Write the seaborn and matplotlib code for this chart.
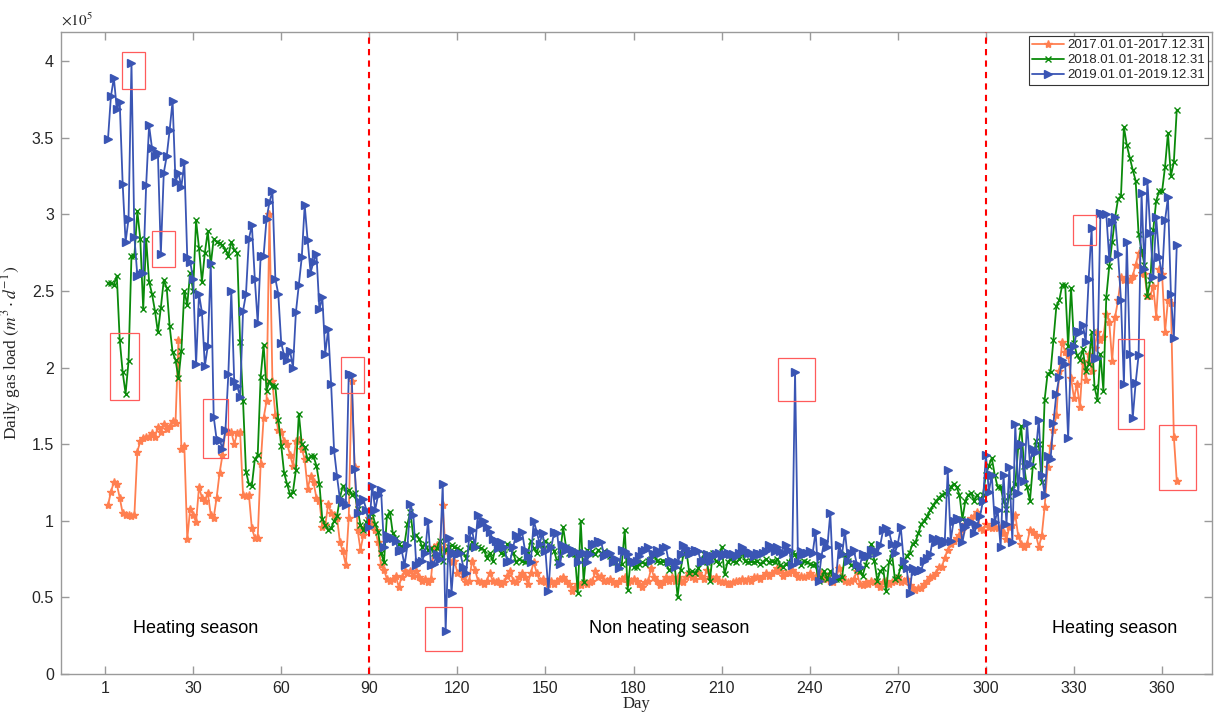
import numpy as np
import pandas as pd
import matplotlib
matplotlib.use("Agg")
import matplotlib.pyplot as plt
from matplotlib.patches import Rectangle
import seaborn as sns

# ---------------- data (daily gas load, x1e5 m^3/d) ----------------
load_2017 = [
    1.10, 1.19, 1.25, 1.24, 1.15, 1.05, 1.04, 1.04, 1.03, 1.04,
    1.45, 1.52, 1.54, 1.55, 1.55, 1.57, 1.55, 1.61, 1.58, 1.63,
    1.60, 1.62, 1.65, 1.64, 2.18, 1.47, 1.49, 0.88, 1.08, 1.04,
    0.99, 1.22, 1.15, 1.13, 1.18, 1.04, 1.02, 1.15, 1.31, 1.43,
    1.59, 1.58, 1.58, 1.50, 1.57, 1.58, 1.17, 1.16, 1.17, 0.95,
    0.89, 0.89, 1.37, 1.67, 1.78, 3.00, 1.91, 1.69, 1.59, 1.58,
    1.52, 1.50, 1.43, 1.36, 1.52, 1.53, 1.47, 1.40, 1.21, 1.29,
    1.25, 1.15, 1.13, 0.96, 0.97, 1.11, 1.05, 1.04, 1.02, 0.86,
    0.80, 0.71, 1.02, 1.91, 1.35, 0.94, 0.81, 0.91, 0.96, 1.02,
    0.98, 0.94, 0.86, 0.71, 0.68, 0.62, 0.61, 0.62, 0.64, 0.57,
    0.63, 0.67, 0.66, 0.67, 0.64, 0.67, 0.63, 0.61, 0.62, 0.60,
    0.62, 0.83, 0.84, 0.83, 1.10, 0.80, 0.79, 0.73, 0.74, 0.66,
    0.67, 0.63, 0.60, 0.61, 0.74, 0.68, 0.61, 0.60, 0.59, 0.61,
    0.66, 0.61, 0.60, 0.61, 0.59, 0.60, 0.64, 0.67, 0.61, 0.60,
    0.63, 0.66, 0.63, 0.59, 0.66, 0.73, 0.66, 0.61, 0.62, 0.60,
    0.59, 0.61, 0.59, 0.61, 0.62, 0.63, 0.61, 0.59, 0.54, 0.57,
    0.59, 0.58, 0.60, 0.59, 0.60, 0.61, 0.67, 0.63, 0.64, 0.61,
    0.61, 0.62, 0.60, 0.59, 0.61, 0.62, 0.63, 0.60, 0.61, 0.62,
    0.61, 0.59, 0.57, 0.60, 0.61, 0.69, 0.63, 0.61, 0.58, 0.60,
    0.63, 0.61, 0.63, 0.61, 0.63, 0.61, 0.60, 0.63, 0.66, 0.63,
    0.62, 0.66, 0.64, 0.62, 0.68, 0.63, 0.62, 0.63, 0.61, 0.60,
    0.60, 0.59, 0.59, 0.60, 0.61, 0.61, 0.62, 0.61, 0.62, 0.61,
    0.63, 0.63, 0.62, 0.64, 0.66, 0.64, 0.66, 0.67, 0.69, 0.67,
    0.64, 0.66, 0.66, 0.68, 0.66, 0.63, 0.64, 0.63, 0.64, 0.66,
    0.63, 0.64, 0.63, 0.66, 0.62, 0.64, 0.61, 0.60, 0.63, 0.69,
    0.63, 0.61, 0.60, 0.61, 0.62, 0.67, 0.59, 0.58, 0.60, 0.59,
    0.61, 0.60, 0.59, 0.57, 0.60, 0.61, 0.59, 0.60, 0.61, 0.63,
    0.60, 0.61, 0.62, 0.58, 0.56, 0.55, 0.56, 0.56, 0.59, 0.61,
    0.63, 0.64, 0.66, 0.70, 0.70, 0.76, 0.81, 0.85, 0.87, 0.89,
    0.91, 0.94, 0.98, 1.00, 1.02, 1.03, 1.06, 0.95, 0.94, 0.98,
    0.96, 0.95, 0.96, 0.95, 0.96, 0.92, 0.88, 0.96, 0.97, 1.04,
    0.90, 0.85, 0.83, 0.85, 0.94, 0.93, 0.91, 0.83, 0.90, 1.09,
    1.35, 1.49, 1.59, 1.69, 1.98, 2.17, 2.10, 2.08, 1.93, 1.80,
    1.89, 1.74, 2.04, 1.92, 2.09, 1.98, 2.13, 2.23, 2.18, 2.20,
    2.35, 2.30, 2.04, 2.33, 2.44, 2.59, 2.57, 2.58, 2.57, 2.60,
    2.67, 2.75, 2.62, 2.61, 2.47, 2.47, 2.53, 2.33, 2.64, 2.61,
    2.23, 2.44, 2.42, 1.55, 1.26,
]

load_2018 = [
    2.55, 2.55, 2.54, 2.60, 2.18, 1.97, 1.83, 2.04, 2.73, 2.73,
    3.02, 2.84, 2.38, 2.84, 2.56, 2.48, 2.37, 2.23, 2.39, 2.57,
    2.52, 2.27, 2.10, 2.05, 1.93, 2.11, 2.50, 2.41, 2.62, 2.50,
    2.96, 2.78, 2.56, 2.75, 2.89, 2.67, 2.84, 2.82, 2.81, 2.80,
    2.77, 2.73, 2.82, 2.77, 2.75, 2.17, 1.78, 1.32, 1.24, 1.23,
    1.40, 1.43, 1.94, 2.15, 1.85, 1.91, 1.88, 1.88, 1.66, 1.49,
    1.31, 1.24, 1.17, 1.19, 1.33, 1.70, 1.50, 1.48, 1.40, 1.42,
    1.42, 1.36, 1.24, 1.01, 0.97, 0.94, 0.95, 1.00, 1.03, 1.15,
    1.23, 1.19, 1.20, 1.17, 1.18, 1.08, 0.97, 0.94, 0.99, 1.03,
    1.05, 0.98, 0.93, 0.79, 0.73, 1.03, 1.06, 0.92, 0.89, 0.85,
    0.83, 0.85, 0.98, 1.06, 0.89, 0.91, 0.88, 0.83, 0.85, 0.81,
    0.82, 0.79, 0.82, 0.87, 0.74, 0.81, 0.83, 0.84, 0.83, 0.82,
    0.81, 0.79, 0.76, 0.82, 0.86, 0.84, 0.83, 0.82, 0.81, 0.76,
    0.79, 0.74, 0.83, 0.84, 0.79, 0.78, 0.85, 0.83, 0.79, 0.73,
    0.75, 0.74, 0.73, 0.79, 0.87, 0.82, 0.79, 0.85, 0.81, 0.87,
    0.85, 0.83, 0.80, 0.73, 0.78, 0.96, 0.83, 0.79, 0.80, 0.78,
    0.53, 1.00, 0.60, 0.81, 0.79, 0.80, 0.78, 0.81, 0.79, 0.80,
    0.78, 0.77, 0.74, 0.73, 0.70, 0.72, 0.94, 0.55, 0.74, 0.70,
    0.70, 0.72, 0.73, 0.72, 0.74, 0.75, 0.77, 0.74, 0.73, 0.74,
    0.73, 0.68, 0.69, 0.71, 0.50, 0.68, 0.78, 0.80, 0.66, 0.67,
    0.66, 0.69, 0.74, 0.78, 0.73, 0.61, 0.79, 0.74, 0.72, 0.83,
    0.65, 0.73, 0.75, 0.74, 0.73, 0.75, 0.79, 0.74, 0.73, 0.74,
    0.73, 0.74, 0.72, 0.73, 0.75, 0.73, 0.74, 0.73, 0.75, 0.71,
    0.70, 0.72, 0.73, 0.79, 0.78, 0.73, 0.71, 0.74, 0.73, 0.72,
    0.71, 0.72, 0.61, 0.63, 0.67, 0.62, 0.67, 0.63, 0.62, 0.62,
    0.63, 0.78, 0.74, 0.71, 0.70, 0.68, 0.67, 0.64, 0.71, 0.77,
    0.85, 0.74, 0.61, 0.67, 0.69, 0.54, 0.73, 0.79, 0.62, 0.63,
    0.70, 0.72, 0.77, 0.79, 0.85, 0.86, 0.92, 0.98, 1.00, 1.03,
    1.07, 1.10, 1.13, 1.15, 1.17, 1.18, 1.19, 1.22, 1.24, 1.22,
    1.17, 1.01, 1.13, 1.17, 1.18, 1.13, 1.17, 1.13, 1.17, 1.30,
    1.36, 1.41, 1.30, 1.22, 1.22, 1.13, 1.08, 1.16, 1.21, 1.24,
    1.48, 1.62, 1.36, 1.22, 1.13, 1.36, 1.52, 1.50, 1.25, 1.79,
    1.96, 1.97, 2.18, 2.40, 2.44, 2.54, 2.54, 2.14, 2.52, 2.16,
    2.08, 2.05, 2.12, 1.98, 2.02, 2.23, 1.87, 1.79, 2.09, 1.85,
    2.46, 2.66, 2.82, 2.98, 3.10, 3.12, 3.57, 3.45, 3.37, 3.29,
    3.22, 2.87, 2.77, 2.67, 2.47, 2.57, 2.90, 3.09, 3.15, 3.15,
    3.31, 3.53, 3.25, 3.34, 3.68,
]

load_2019 = [
    3.49, 3.77, 3.89, 3.69, 3.73, 3.20, 2.82, 2.97, 3.99, 2.85,
    2.60, 2.61, 2.62, 3.19, 3.58, 3.43, 3.38, 3.40, 2.74, 3.27,
    3.38, 3.55, 3.74, 3.21, 3.27, 3.18, 3.34, 2.72, 2.69, 2.58,
    2.02, 2.48, 2.36, 2.01, 2.14, 2.68, 1.68, 1.53, 1.53, 1.47,
    1.59, 1.96, 2.50, 1.91, 1.88, 1.81, 2.37, 2.48, 2.84, 2.93,
    2.58, 2.29, 2.73, 2.73, 2.97, 3.08, 3.15, 2.58, 2.48, 2.16,
    2.08, 2.05, 2.11, 2.00, 2.36, 2.54, 2.72, 3.06, 2.83, 2.62,
    2.69, 2.74, 2.38, 2.46, 2.09, 2.25, 1.89, 1.46, 1.29, 1.14,
    1.12, 1.10, 1.96, 1.95, 1.34, 1.05, 1.12, 1.14, 1.07, 0.96,
    1.23, 1.07, 1.17, 1.20, 0.83, 0.91, 0.89, 0.89, 0.87, 0.80,
    0.81, 0.71, 0.84, 1.11, 1.04, 0.71, 0.73, 0.74, 0.79, 1.00,
    0.71, 0.72, 0.78, 0.75, 1.24, 0.28, 0.89, 0.53, 0.79, 0.78,
    0.79, 0.70, 0.66, 0.89, 0.94, 0.83, 1.04, 0.98, 1.00, 0.96,
    0.93, 0.88, 0.87, 0.82, 0.86, 0.83, 0.73, 0.74, 0.83, 0.91,
    0.89, 0.93, 0.81, 0.77, 0.73, 1.00, 0.93, 0.85, 0.92, 0.80,
    0.54, 0.83, 0.93, 0.92, 0.72, 0.84, 0.81, 0.82, 0.79, 0.80,
    0.73, 0.78, 0.79, 0.73, 0.78, 0.85, 0.85, 0.87, 0.86, 0.77,
    0.78, 0.79, 0.73, 0.75, 0.69, 0.81, 0.80, 0.78, 0.74, 0.73,
    0.74, 0.77, 0.80, 0.81, 0.83, 0.74, 0.78, 0.81, 0.79, 0.82,
    0.83, 0.73, 0.74, 0.70, 0.73, 0.78, 0.84, 0.82, 0.78, 0.79,
    0.81, 0.80, 0.73, 0.74, 0.78, 0.74, 0.77, 0.78, 0.79, 0.77,
    0.78, 0.79, 0.78, 0.78, 0.77, 0.79, 0.83, 0.81, 0.79, 0.79,
    0.77, 0.79, 0.78, 0.79, 0.80, 0.84, 0.83, 0.80, 0.83, 0.80,
    0.78, 0.84, 0.81, 0.71, 1.97, 0.73, 0.80, 0.78, 0.79, 0.80,
    0.79, 0.93, 0.61, 0.77, 0.87, 0.83, 1.05, 0.61, 0.64, 0.84,
    0.78, 0.93, 0.74, 0.79, 0.81, 0.72, 0.70, 0.78, 0.77, 0.77,
    0.81, 0.81, 0.79, 0.84, 0.94, 0.95, 0.93, 0.85, 0.79, 0.85,
    0.96, 0.74, 0.69, 0.53, 0.69, 0.67, 0.67, 0.68, 0.74, 0.76,
    0.78, 0.89, 0.86, 0.88, 0.85, 0.87, 1.33, 0.87, 1.00, 1.02,
    1.01, 0.86, 0.96, 0.99, 0.99, 0.92, 0.97, 1.03, 1.13, 1.43,
    1.19, 1.30, 0.99, 1.07, 0.83, 1.30, 0.98, 1.35, 0.86, 1.63,
    1.18, 1.50, 1.26, 1.64, 1.37, 1.47, 1.45, 1.66, 1.30, 1.17,
    1.42, 1.40, 1.64, 1.83, 1.94, 2.05, 2.02, 1.54, 2.10, 2.14,
    2.24, 2.23, 2.28, 2.17, 2.58, 2.91, 2.06, 2.06, 3.01, 3.00,
    3.00, 2.71, 2.95, 2.98, 2.74, 2.44, 1.89, 2.82, 2.09, 1.67,
    1.90, 2.08, 3.14, 2.64, 3.22, 2.88, 2.59, 2.98, 2.72, 2.59,
    2.96, 3.11, 2.48, 2.19, 2.80,
]

series_labels = ["2017.01.01-2017.12.31", "2018.01.01-2018.12.31", "2019.01.01-2019.12.31"]
tick_days = [0, 30, 60, 90, 120, 150, 180, 210, 240, 270, 300, 330, 360]
tick_labels = ["1", "30", "60", "90", "120", "150", "180", "210", "240", "270", "300", "330", "360"]
season_splits = [90, 300]
season_names = ["Heating season", "Non heating season", "Heating season"]
season_text_days = [31, 192, 344]
# highlighted anomalies: (day_min, day_max, load_min, load_max)
anomaly_boxes = [
    (5.8, 13.6, 3.82, 4.06),
    (16.0, 23.9, 2.655, 2.89),
    (1.7, 11.6, 1.787, 2.225),
    (33.4, 41.9, 1.409, 1.794),
    (80.5, 88.3, 1.833, 2.068),
    (108.8, 121.4, 0.15, 0.437),
    (229.1, 241.7, 1.781, 2.061),
    (329.7, 337.5, 2.798, 2.994),
    (345.0, 353.9, 1.598, 2.185),
    (359.0, 371.6, 1.20, 1.624),
]

# ---------------- build frame ----------------
frames = []
for lab, vals in zip(series_labels, [load_2017, load_2018, load_2019]):
    frames.append(pd.DataFrame({"Day": np.arange(1, len(vals) + 1),
                                "Load": vals, "Period": lab}))
df = pd.concat(frames, ignore_index=True)

sns.set_theme(style="white")
plt.rcParams["font.family"] = ["Liberation Sans", "DejaVu Sans"]
plt.rcParams["mathtext.fontset"] = "stix"

fig = plt.figure(figsize=(12.16, 7.15), dpi=100)
ax = fig.add_axes([61 / 1216, 1 - 674 / 715, (1212 - 61) / 1216, (674 - 32) / 715])

colors = ["#FF7F50", "#0A8A0A", "#3A55B4"]
markers = ["*", "x", ">"]
msizes = [6, 4.5, 6]
for lab, c, m, ms in zip(series_labels, colors, markers, msizes):
    sub = df[df["Period"] == lab]
    sns.lineplot(data=sub, x="Day", y="Load", ax=ax, color=c, marker=m,
                 markersize=ms, markeredgecolor=c, markerfacecolor=c,
                 markeredgewidth=1.0, linewidth=1.3, label=lab,
                 estimator=None, sort=False)

for d in season_splits:
    ax.axvline(d, color="red", linestyle=(0, (3, 2.5)), linewidth=1.5, zorder=5)

for x0, x1, y0, y1 in anomaly_boxes:
    ax.add_patch(Rectangle((x0, y0), x1 - x0, y1 - y0, fill=False,
                           edgecolor="#FF5B5B", linewidth=0.9, zorder=6))

for name, d in zip(season_names, season_text_days):
    ax.text(d, 0.30, name, ha="center", va="center", fontsize=13, color="black")

ax.set_xlim(-15, 377)
ax.set_ylim(0, 4.19)
ax.set_xticks(tick_days)
ax.set_xticklabels(tick_labels)
ax.set_yticks([0, 0.5, 1, 1.5, 2, 2.5, 3, 3.5, 4])
ax.set_yticklabels(["0", "0.5", "1", "1.5", "2", "2.5", "3", "3.5", "4"])
ax.tick_params(axis="both", direction="in", length=6, width=1, color="#9a9a9a",
               labelsize=11.5, labelcolor="#262626", top=True, right=True,
               bottom=True, left=True, pad=5)
for sp in ax.spines.values():
    sp.set_color("#9a9a9a")
    sp.set_linewidth(1.0)
    sp.set_visible(True)

ax.set_xlabel("Day", family=["Liberation Serif", "DejaVu Serif"], fontsize=12, labelpad=0)
ax.set_ylabel(r"Daily gas load $(m^3 \cdot d^{-1})$", family=["Liberation Serif", "DejaVu Serif"],
              fontsize=12.5, labelpad=6)
ax.text(0.0, 1.005, r"$\times 10^5$", transform=ax.transAxes, fontsize=11,
        ha="left", va="bottom", color="#262626")

leg = ax.legend(loc="upper right", fontsize=9.5, frameon=True, fancybox=False,
                framealpha=1, edgecolor="#333333", handlelength=2.4,
                handletextpad=0.25, labelspacing=0.2, borderpad=0.25,
                borderaxespad=0.3)
leg.get_frame().set_linewidth(0.8)

fig.savefig("out.png", dpi=100)
